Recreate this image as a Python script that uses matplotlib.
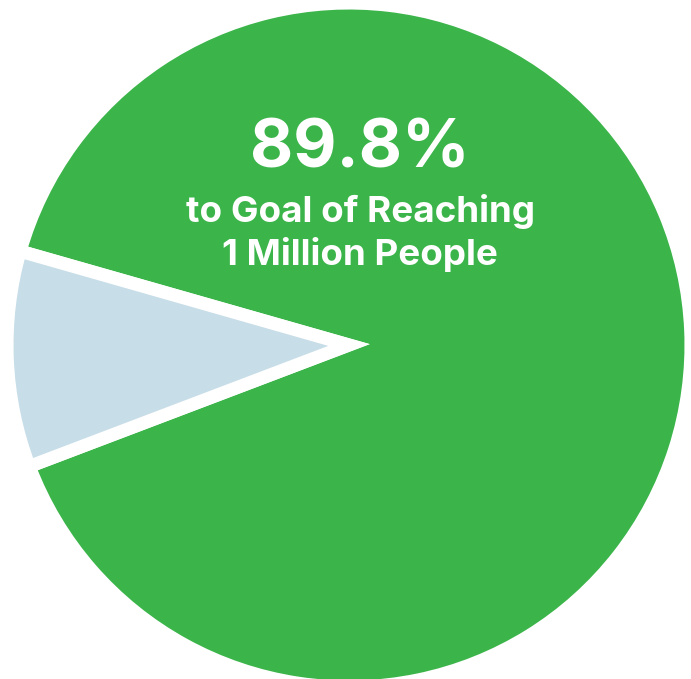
import matplotlib
matplotlib.use("Agg")
import matplotlib.pyplot as plt

categories = ["Reached", "Remaining"]
values = [89.8, 10.2]
colors = ["#3BB54A", "#C7DDE8"]
headline = "89.8%"
line2 = "to Goal of Reaching"
line3 = "1 Million People"

W, H = 691, 679
fig = plt.figure(figsize=(W / 100, H / 100), dpi=100)
ax = fig.add_axes([0, 0, 1, 1])

ax.pie(values, colors=colors, startangle=200.8, counterclock=True,
       center=(349, H - 345), radius=342, frame=True,
       wedgeprops=dict(edgecolor="white", linewidth=9.4))
ax.set_xlim(0, W)
ax.set_ylim(0, H)
ax.set_aspect("equal")
ax.axis("off")

font = ["Inter", "DejaVu Sans"]
ax.text(360, H - 167, headline, ha="center", va="baseline", color="white",
        fontsize=48, fontweight="bold", family=font)
ax.text(361, H - 222, line2, ha="center", va="baseline", color="white",
        fontsize=26.5, fontweight="bold", family=font)
ax.text(360, H - 265, line3, ha="center", va="baseline", color="white",
        fontsize=26.5, fontweight="bold", family=font)

fig.savefig("out.png", dpi=100)
